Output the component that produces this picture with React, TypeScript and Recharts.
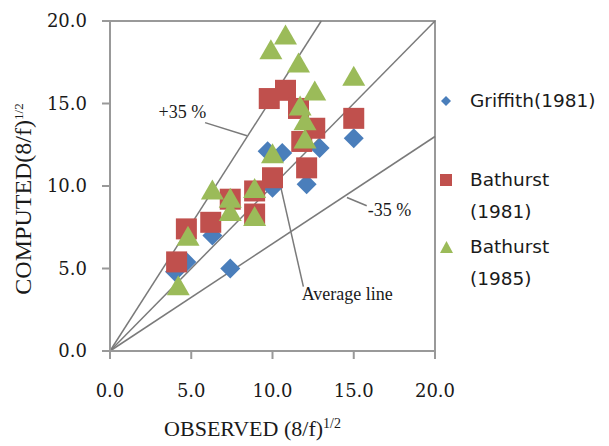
import { ScatterChart, Scatter, XAxis, YAxis, ReferenceLine, ReferenceArea, ReferenceDot } from 'recharts';

// observed vs computed (8/f)^1/2
const griffithObserved = [4.7, 4.0, 7.4, 6.3, 9.7, 10.6, 10.0, 12.1, 12.9, 15.0];
const griffithComputed = [5.4, 4.8, 5.0, 7.0, 12.1, 12.0, 9.9, 10.1, 12.3, 12.9];

const bathurst81Observed = [4.1, 4.7, 6.2, 7.4, 8.9, 8.9, 10.0, 9.8, 10.8, 11.6, 12.6, 11.8, 12.1, 15.0];
const bathurst81Computed = [5.4, 7.4, 7.8, 9.2, 9.7, 8.3, 10.5, 15.3, 15.8, 14.7, 13.5, 12.7, 11.1, 14.1];

const bathurst85Observed = [4.2, 4.8, 6.3, 7.4, 7.4, 8.9, 8.9, 10.0, 12.0, 12.0, 11.7, 12.6, 11.6, 9.9, 10.8, 15.0];
const bathurst85Computed = [3.8, 6.8, 9.6, 9.1, 8.3, 9.7, 8.0, 11.8, 12.7, 13.8, 14.7, 15.6, 17.3, 18.1, 19.0, 16.5];

const axisTicks = [0, 5, 10, 15, 20];

// +/-35% band and average line
const upperLine = [{ x: 0, y: 0 }, { x: 13, y: 20 }];
const averageLine = [{ x: 0, y: 0 }, { x: 20, y: 20 }];
const lowerLine = [{ x: 0, y: 0 }, { x: 20, y: 13 }];

const annotations = [
  { text: '+35 %', at: { x: 4.45, y: 14.5 }, leader: [{ x: 5.85, y: 13.84 }, { x: 8.43, y: 13.05 }] },
  { text: '-35 %', at: { x: 17.2, y: 8.55 }, leader: [{ x: 14.58, y: 9.3 }, { x: 15.8, y: 8.8 }] },
  { text: 'Average line', at: { x: 14.6, y: 3.45 }, leader: [{ x: 10.4, y: 10.4 }, { x: 11.9, y: 3.9 }] },
];

const BLUE = '#4a7ebb';
const RED = '#c0504d';
const GREEN = '#9bbb59';
const textColor = '#1a1a1a';
const lineGray = '#7a7a7a';
const frameGray = '#999999';

const toPoints = (xs: number[], ys: number[]) => xs.map((x, i) => ({ x, y: ys[i] }));

const Diamond = ({ cx, cy, fill }: any) => (
  <polygon points={`${cx},${cy - 10} ${cx + 10},${cy} ${cx},${cy + 10} ${cx - 10},${cy}`} fill={fill} />
);
const Square = ({ cx, cy, fill }: any) => <rect x={cx - 10.5} y={cy - 10.5} width={21} height={21} fill={fill} />;
const Triangle = ({ cx, cy, fill }: any) => (
  <polygon points={`${cx},${cy - 13} ${cx + 11.5},${cy + 7} ${cx - 11.5},${cy + 7}`} fill={fill} />
);

const series = [
  { name: 'Griffith(1981)', lines: ['Griffith(1981)'], color: BLUE, shape: Diamond, data: toPoints(griffithObserved, griffithComputed) },
  { name: 'Bathurst (1981)', lines: ['Bathurst', '(1981)'], color: RED, shape: Square, data: toPoints(bathurst81Observed, bathurst81Computed) },
  { name: 'Bathurst (1985)', lines: ['Bathurst', '(1985)'], color: GREEN, shape: Triangle, data: toPoints(bathurst85Observed, bathurst85Computed) },
];

const tickStyle = { fontFamily: '"DejaVu Serif"', fontSize: 18, fill: textColor };
const serif = '"Liberation Serif", "Times New Roman", serif';

const XTitle = ({ viewBox }: any) => (
  <text x={viewBox.x + viewBox.width / 2 - 20} y={viewBox.y + 85} textAnchor="middle" fontFamily={serif} fontSize={22} fill={textColor}>
    OBSERVED (8/f)<tspan dy={-8} fontSize={14}>1/2</tspan>
  </text>
);

const YTitle = ({ viewBox }: any) => {
  const cx = 15;
  const cy = viewBox.y + viewBox.height / 2 + 13;
  return (
    <text x={cx} y={cy} transform={`rotate(-90 ${cx} ${cy})`} textAnchor="middle" dominantBaseline="central" fontFamily={serif} fontSize={24} fill={textColor}>
      COMPUTED(8/f)<tspan dy={-5} fontSize={13}>1/2</tspan>
    </text>
  );
};

const legendMarker = (shape: any, color: string) => {
  if (shape === Diamond) return <polygon points="6,1 11,6 6,11 1,6" fill={color} />;
  if (shape === Square) return <rect x={0} y={0} width={12} height={12} fill={color} />;
  return <polygon points="6.5,0 13,12 0,12" fill={color} />;
};

function ChartLegend() {
  const tops = [77, 156, 223];
  return (
    <>
      {series.map((s, i) => (
        <div key={s.name} style={{ position: 'absolute', left: 432, top: tops[i], fontFamily: '"DejaVu Sans"', fontSize: 18.5, color: textColor, lineHeight: '32px', whiteSpace: 'nowrap' }}>
          <svg width={14} height={13} style={{ position: 'absolute', left: 0, top: 10 }}>
            {legendMarker(s.shape, s.color)}
          </svg>
          <div style={{ marginLeft: 30 }}>
            {s.lines.map((l) => (
              <div key={l}>{l}</div>
            ))}
          </div>
        </div>
      ))}
    </>
  );
}

export default function App() {
  return (
    <div style={{ position: 'relative', width: 601, height: 438 }}>
      <ScatterChart width={601} height={438} margin={{ top: 13, right: 174, left: 0, bottom: 0 }}>
        <XAxis
          type="number"
          dataKey="x"
          domain={[0, 20]}
          ticks={axisTicks}
          tickFormatter={(v: number) => v.toFixed(1)}
          height={95}
          tick={tickStyle}
          tickSize={8}
          tickMargin={25}
          axisLine={{ stroke: frameGray, strokeWidth: 2 }}
          tickLine={{ stroke: frameGray, strokeWidth: 2 }}
          label={<XTitle />}
        />
        <YAxis
          type="number"
          dataKey="y"
          domain={[0, 20]}
          ticks={axisTicks}
          tickFormatter={(v: number) => v.toFixed(1)}
          width={102}
          tick={tickStyle}
          tickSize={8}
          tickMargin={15}
          axisLine={{ stroke: frameGray, strokeWidth: 2 }}
          tickLine={{ stroke: frameGray, strokeWidth: 2 }}
          label={<YTitle />}
        />
        <ReferenceArea x1={0} x2={20} y1={0} y2={20} fill="none" stroke={frameGray} strokeWidth={2} ifOverflow="visible" />
        <ReferenceLine segment={upperLine} stroke={lineGray} strokeWidth={1.5} ifOverflow="visible" />
        <ReferenceLine segment={averageLine} stroke={lineGray} strokeWidth={1.5} ifOverflow="visible" />
        <ReferenceLine segment={lowerLine} stroke={lineGray} strokeWidth={1.5} ifOverflow="visible" />
        {series.map((s) => (
          <Scatter key={s.name} name={s.name} data={s.data} fill={s.color} shape={s.shape} isAnimationActive={false} />
        ))}
        {annotations.map((a) => (
          <ReferenceLine key={a.text + '-leader'} segment={a.leader} stroke={lineGray} strokeWidth={1.5} ifOverflow="visible" />
        ))}
        {annotations.map((a) => (
          <ReferenceDot
            key={a.text}
            x={a.at.x}
            y={a.at.y}
            r={0}
            fill="none"
            stroke="none"
            ifOverflow="visible"
            label={{ value: a.text, position: 'center', fontFamily: serif, fontSize: 18, fill: textColor }}
          />
        ))}
      </ScatterChart>
      <ChartLegend />
    </div>
  );
}
